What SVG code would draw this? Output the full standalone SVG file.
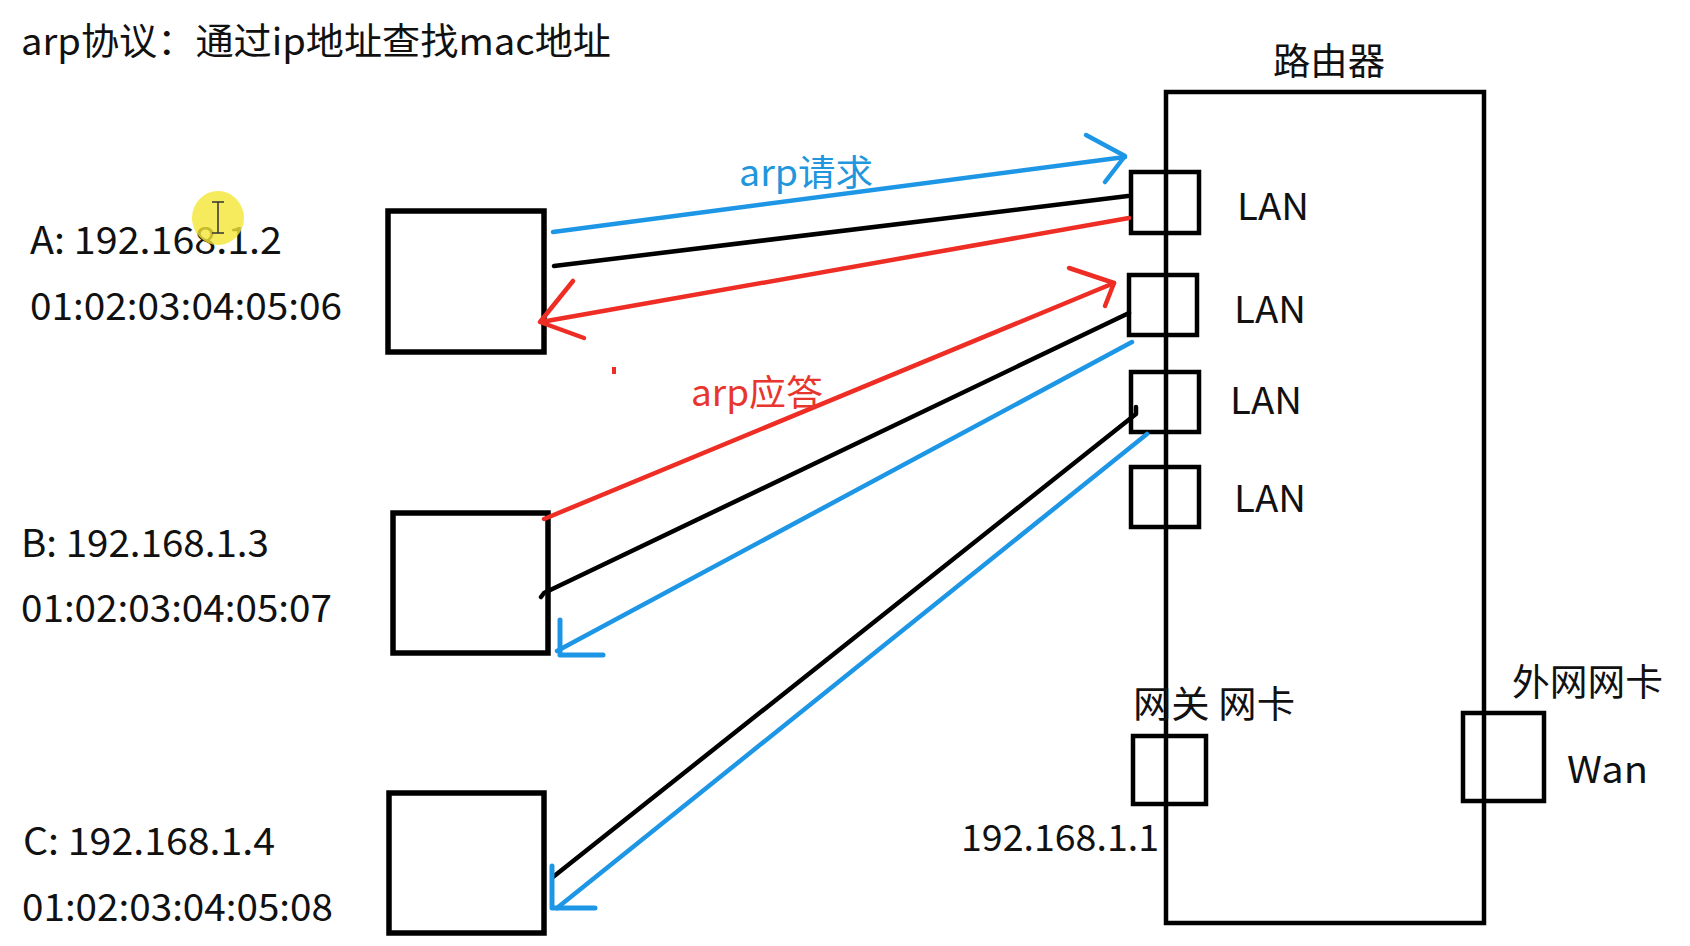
<svg xmlns="http://www.w3.org/2000/svg" width="1690" height="946" viewBox="0 0 1690 946">
<style>
text { font-family: "Noto Sans CJK SC", "Noto Sans", sans-serif; fill: #111; font-size: 37px; }
.lbl { font-size: 38px; }
.box { fill: none; stroke: #000; stroke-width: 5.5; }
.port { fill: none; stroke: #000; stroke-width: 4.5; }
.ln { fill: none; stroke-width: 4.5; stroke-linecap: round; stroke-linejoin: round; }
.ah { stroke-width: 5; }
.blk { stroke: #000; }
.blu { stroke: #1E96E6; }
.red { stroke: #EE2D25; }
.tblu { fill: #2196DC; font-size: 36px; }
.tred { fill: #E8362E; font-size: 36px; }
</style>
<rect width="1690" height="946" fill="#fff"/>

<text id="title" x="21" y="55" textLength="590" lengthAdjust="spacingAndGlyphs">arp协议：通过ip地址查找mac地址</text>

<g id="hostA">
  <rect class="box" x="388" y="211" width="156" height="141"/>
  <text class="lbl" x="30" y="254" textLength="252" lengthAdjust="spacingAndGlyphs">A: 192.168.1.2</text>
  <text class="lbl" x="30" y="320" textLength="312" lengthAdjust="spacingAndGlyphs">01:02:03:04:05:06</text>
</g>
<g id="hostB">
  <rect class="box" x="393" y="513" width="155" height="140"/>
  <text class="lbl" x="21" y="557" textLength="248" lengthAdjust="spacingAndGlyphs">B: 192.168.1.3</text>
  <text class="lbl" x="21" y="622" textLength="311" lengthAdjust="spacingAndGlyphs">01:02:03:04:05:07</text>
</g>
<g id="hostC">
  <rect class="box" x="389" y="793" width="155" height="140"/>
  <text class="lbl" x="23" y="855" textLength="252" lengthAdjust="spacingAndGlyphs">C: 192.168.1.4</text>
  <text class="lbl" x="22" y="921" textLength="311" lengthAdjust="spacingAndGlyphs">01:02:03:04:05:08</text>
</g>

<g id="router">
  <rect class="port" x="1166" y="92" width="318" height="831"/>
  <text x="1273" y="75" textLength="112" lengthAdjust="spacingAndGlyphs">路由器</text>
  <g id="lan1"><rect class="port" x="1131" y="172" width="68" height="61"/><text x="1237" y="220" textLength="72" lengthAdjust="spacingAndGlyphs">LAN</text></g>
  <g id="lan2"><rect class="port" x="1129" y="275" width="68" height="60"/><text x="1234" y="323" textLength="72" lengthAdjust="spacingAndGlyphs">LAN</text></g>
  <g id="lan3"><rect class="port" x="1131" y="372" width="68" height="60"/><text x="1230" y="414" textLength="72" lengthAdjust="spacingAndGlyphs">LAN</text></g>
  <g id="lan4"><rect class="port" x="1131" y="467" width="68" height="60"/><text x="1234" y="512" textLength="72" lengthAdjust="spacingAndGlyphs">LAN</text></g>
  <g id="gateway">
    <rect class="port" x="1133" y="736" width="73" height="68"/>
    <text x="1133" y="718" textLength="162" lengthAdjust="spacingAndGlyphs">网关 网卡</text>
    <text x="961" y="851" textLength="198" lengthAdjust="spacingAndGlyphs">192.168.1.1</text>
  </g>
  <g id="wan">
    <rect class="port" x="1463" y="713" width="81" height="88"/>
    <text x="1512" y="696" textLength="151" lengthAdjust="spacingAndGlyphs">外网网卡</text>
    <text x="1567" y="783" textLength="81" lengthAdjust="spacingAndGlyphs">Wan</text>
  </g>
</g>

<g id="connectors">
  <line class="ln blu" x1="553" y1="232" x2="1125" y2="157"/>
  <polyline class="ln blu" points="1086,135 1125,156 1105,182"/>
  <line class="ln blk" x1="554" y1="266" x2="1128" y2="196"/>
  <line class="ln red" x1="1129" y1="218" x2="541" y2="322"/>
  <polyline class="ln red" points="573,281 540,322 584,338"/>
  <line class="ln red" x1="544" y1="519" x2="1114" y2="283"/>
  <polyline class="ln red" points="1069,268 1114,283 1105,306"/>
  <polyline class="ln blk" points="1129,313 544,593 541,597"/>
  <line class="ln blu" x1="1132" y1="342" x2="557" y2="651"/>
  <polyline class="ln blu ah" points="560,620 560,655 603,655"/>
  <polyline class="ln blk" points="1136,407 1136,414 553,877"/>
  <line class="ln blu" x1="1147" y1="434" x2="557" y2="908"/>
  <polyline class="ln blu ah" points="552,866 552,908 595,908"/>
  <text class="tblu" x="739" y="186" textLength="134" lengthAdjust="spacingAndGlyphs">arp请求</text>
  <text class="tred" x="691" y="406" textLength="132" lengthAdjust="spacingAndGlyphs">arp应答</text>
  <rect x="612" y="367" width="4" height="7" fill="#EE2D25"/>
</g>

<g id="cursor">
  <ellipse cx="218" cy="218" rx="26" ry="27" fill="#F4E534" opacity="0.8"/>
  <path d="M212,202 h12 M218,202 v31 M212,233 h12" stroke="#333" stroke-width="1.5" fill="none"/>
</g>
</svg>
